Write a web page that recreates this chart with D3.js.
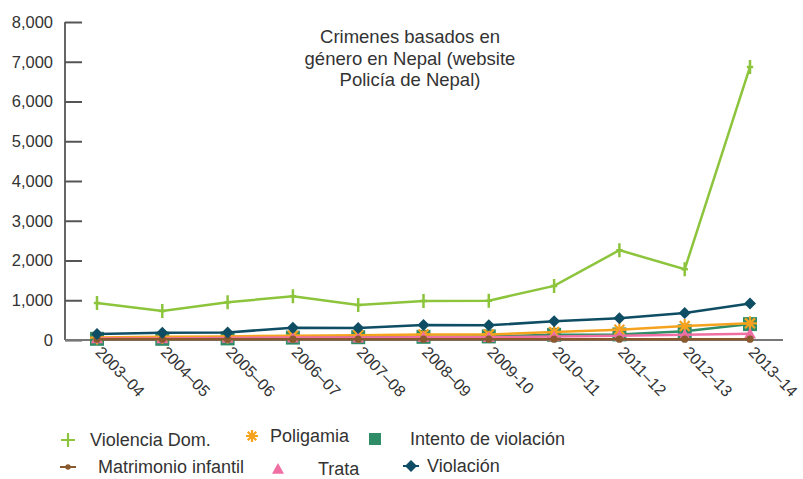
<!DOCTYPE html>
<html>
<head>
<meta charset="utf-8">
<script src="https://cdn.jsdelivr.net/npm/d3@7"></script>
<style>
  body { margin: 0; background: #fff; }
  text { font-family: 'Liberation Sans', Arial, sans-serif; }
</style>
</head>
<body>
<div id="chart"></div>
<script>
// periods on the x axis
const years = ['2003–04', '2004–05', '2005–06', '2006–07', '2007–08', '2008–09', '2009-10', '2010–11', '2011–12', '2012–13', '2013–14']
const yTicks = [0, 1000, 2000, 3000, 4000, 5000, 6000, 7000, 8000]

// series values
const violenciaDom = [930, 730, 950, 1100, 880, 980, 990, 1360, 2260, 1780, 6870]
const violacion = [150, 180, 190, 310, 300, 380, 370, 470, 550, 680, 920]
const poligamia = [60, 80, 90, 110, 120, 140, 140, 200, 260, 350, 420]
const intento = [30, 30, 40, 60, 70, 80, 90, 130, 140, 220, 400]
const trata = [40, 40, 50, 60, 60, 70, 70, 90, 110, 130, 160]
const matrimonio = [20, 20, 20, 20, 20, 20, 20, 20, 20, 20, 20]

// drawing order (bottom first)
const series = [
  { name: 'Intento de violación', values: intento, color: '#2e8d66', marker: 'square' },
  { name: 'Poligamia', values: poligamia, color: '#f5a21f', marker: 'asterisk' },
  { name: 'Trata', values: trata, color: '#ef6fa3', marker: 'triangle' },
  { name: 'Matrimonio infantil', values: matrimonio, color: '#8a5a2e', marker: 'circle' },
  { name: 'Violación', values: violacion, color: '#0e4d63', marker: 'diamond' },
  { name: 'Violencia Dom.', values: violenciaDom, color: '#8cc43c', marker: 'plus' }
]

const width = 803, height = 479
const margin = {top: 22, right: 20, bottom: 139, left: 65}

const svg = d3.select('#chart')
  .append('svg')
    .attr('width', width)
    .attr('height', height)

const x = d3.scalePoint()
  .domain(years)
  .range([97, 750])

const y = d3.scaleLinear()
  .domain([0, 8000])
  .range([height - margin.bottom, margin.top])

// y axis, ticks point into the plot
const yAxis = svg.append('g')
  .attr('transform', 'translate(' + margin.left + ',0)')
  .call(d3.axisRight(y).tickValues(yTicks).tickSize(17).tickFormat(d3.format(',')))
yAxis.select('.domain').attr('d', 'M0,' + y(8000) + 'V' + y(0)).attr('stroke', '#666').attr('stroke-width', 2)
yAxis.selectAll('.tick line').attr('stroke', '#555').attr('stroke-width', 2)
yAxis.selectAll('.tick text')
  .attr('x', -12)
  .attr('text-anchor', 'end')
  .style('font-size', '16.5px')
  .style('fill', '#333')

// x axis
const xAxis = svg.append('g')
  .attr('transform', 'translate(0,' + y(0) + ')')
  .call(d3.axisBottom(x).tickSize(0))
xAxis.select('.domain').attr('d', 'M' + margin.left + ',0H783').attr('stroke', '#777').attr('stroke-width', 2)
xAxis.selectAll('.tick text')
  .attr('x', 0)
  .attr('y', 0)
  .attr('dy', 0)
  .attr('text-anchor', 'start')
  .attr('transform', 'translate(-3,13) rotate(46)')
  .style('font-size', '16px')
  .style('fill', '#333')

// marker shapes
function markerPath(type, s) {
  if (type === 'square') return 'M' + (-s) + ',' + (-s) + 'h' + 2 * s + 'v' + 2 * s + 'h' + (-2 * s) + 'Z'
  if (type === 'diamond') return 'M0,' + (-s) + 'L' + s + ',0L0,' + s + 'L' + (-s) + ',0Z'
  if (type === 'triangle') return 'M0,' + (-s) + 'L' + s + ',' + (s * 0.8) + 'L' + (-s) + ',' + (s * 0.8) + 'Z'
  return null
}

function drawMarker(g, type, color, size) {
  if (type === 'plus') {
    g.append('path').attr('d', 'M0,' + (-size) + 'V' + size + 'M' + (-size * 0.45) + ',0H' + (size * 0.45))
      .attr('stroke', color).attr('stroke-width', 2.5).attr('fill', 'none')
  } else if (type === 'asterisk') {
    let d = ''
    for (let i = 0; i < 4; i++) {
      const a = i * Math.PI / 4
      d += 'M' + (-Math.cos(a) * size) + ',' + (-Math.sin(a) * size) + 'L' + (Math.cos(a) * size) + ',' + (Math.sin(a) * size)
    }
    g.append('path').attr('d', d).attr('stroke', color).attr('stroke-width', 2.2).attr('fill', 'none')
  } else if (type === 'circle') {
    g.append('circle').attr('r', size * 0.6).attr('fill', color)
  } else {
    g.append('path').attr('d', markerPath(type, size)).attr('fill', color)
  }
}

const markerSize = { square: 7, asterisk: 7, triangle: 6, circle: 6, diamond: 6, plus: 7 }

const line = d3.line()
  .x((d, i) => x(years[i]))
  .y(d => y(d))

series.forEach(s => {
  svg.append('path')
    .datum(s.values)
    .attr('d', line)
    .attr('fill', 'none')
    .attr('stroke', s.color)
    .attr('stroke-width', 2.5)

  s.values.forEach((v, i) => {
    const g = svg.append('g').attr('transform', 'translate(' + x(years[i]) + ',' + y(v) + ')')
    drawMarker(g, s.marker, s.color, markerSize[s.marker])
  })
})

// chart title
const titleLines = ['Crimenes basados en', 'género en Nepal (website', 'Policía de Nepal)']
svg.append('g').selectAll('text')
  .data(titleLines)
  .enter()
  .append('text')
    .attr('x', 410)
    .attr('y', (d, i) => 43 + i * 21.5)
    .attr('text-anchor', 'middle')
    .style('font-size', '18.5px')
    .style('fill', '#333')
    .text(d => d)

// LEGEND
const legendData = [
  { name: 'Violencia Dom.', mx: 68, tx: 90, y: 440, ref: 'Violencia Dom.' },
  { name: 'Poligamia', mx: 252, tx: 270, y: 436, ref: 'Poligamia' },
  { name: 'Intento de violación', mx: 375, tx: 410, y: 439, ref: 'Intento de violación' },
  { name: 'Matrimonio infantil', mx: 68, tx: 98, y: 467, ref: 'Matrimonio infantil' },
  { name: 'Trata', mx: 278, tx: 318, y: 469, ref: 'Trata' },
  { name: 'Violación', mx: 411, tx: 427, y: 466, ref: 'Violación' }
]

legendData.forEach(l => {
  const s = series.find(d => d.name === l.ref)
  const g = svg.append('g').attr('transform', 'translate(' + l.mx + ',' + l.y + ')')
  if (s.marker === 'circle' || s.marker === 'diamond') {
    g.append('line').attr('x1', -8).attr('x2', 8).attr('stroke', s.color).attr('stroke-width', 2)
  }
  if (s.marker === 'plus') {
    g.append('path').attr('d', 'M0,-7V7M-7,0H7').attr('stroke', s.color).attr('stroke-width', 2.2)
  } else {
    drawMarker(g, s.marker, s.color, s.marker === 'circle' ? 4.5 : 6)
  }
  svg.append('text')
    .attr('x', l.tx)
    .attr('y', l.y + 6)
    .style('font-size', '18px')
    .style('fill', '#333')
    .text(l.name)
})
</script>
</body>
</html>
